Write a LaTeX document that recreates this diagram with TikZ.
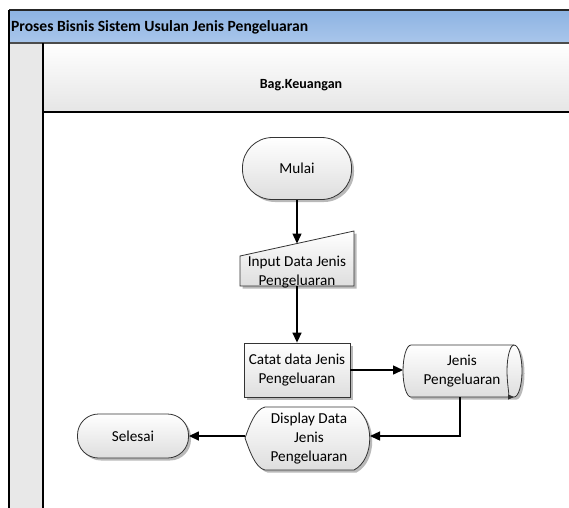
\documentclass[tikz,border=0pt]{standalone}
\usepackage{fontspec}
\setmainfont{Carlito}
\usetikzlibrary{arrows.meta,shadows}
\definecolor{judulA}{HTML}{8DB3E2}
\definecolor{judulB}{HTML}{A9C6EB}

\begin{document}
\begin{tikzpicture}[x=1pt,y=-1pt,
    bentuk/.style={top color=white,bottom color=black!13,draw=black!80,line width=0.8pt,
      drop shadow={shadow xshift=2.5pt,shadow yshift=-2.5pt,fill=black!50,opacity=0.55}},
    teks/.style={align=center,inner sep=0pt,font=\fontsize{15.2}{19}\selectfont},
    terminal/.style={bentuk,teks,rounded corners=30pt,minimum width=109pt,minimum height=62pt},
    alur/.style={line width=1.4pt,-{Triangle[length=10pt,width=9pt]}}]
    \useasboundingbox (0,0) rectangle (569,507);
    \clip (0,0) rectangle (569,507);
    % lajur
    \shade[top color=judulA,bottom color=judulB] (9,10) rectangle (590,43);
    \shade[top color=white,bottom color=black!10] (43,43) rectangle (590,112);
    \fill[black!9] (9,43) rectangle (43,520);
    \draw[line width=1.5pt,black!85] (9,10) -- (590,10);
    \draw[line width=2.5pt,black!70] (9,43) -- (590,43);
    \draw[line width=1.2pt] (9,10) -- (9,520);
    \draw[line width=1.2pt] (43,43) -- (43,520);
    \draw[line width=1.2pt] (43,112) -- (590,112);
    \node[anchor=west,inner sep=0pt,font=\fontsize{15.6}{18}\bfseries\selectfont] (judul) at (11,27) {Proses Bisnis Sistem Usulan Jenis Pengeluaran};
    \node[font=\fontsize{14}{17}\bfseries\selectfont] (lajur) at (301,85) {Bag.Keuangan};
    % simbol
    \node[terminal] (mulai) at (297,168.5) {Mulai};
    \draw[bentuk] (240,256) -- (354,231) -- (354,286) -- (240,286) -- cycle;
    \node[teks] (input) at (297,272) {Input Data Jenis\\Pengeluaran};
    \coordinate (input top) at (297,243.5);
    \coordinate (input bot) at (297,286);
    \node[bentuk,teks,minimum width=106pt,minimum height=54pt] (catat) at (297,370) {Catat data Jenis\\Pengeluaran};
    \draw[bentuk] (411,345) -- (514,345) arc[start angle=-90,end angle=90,x radius=8,y radius=26]
        -- (411,397) arc[start angle=90,end angle=270,x radius=8,y radius=26] -- cycle;
    \draw[line width=0.8pt,draw=black!80,-{Triangle[length=6pt,width=5pt]}] (514,345) arc[start angle=270,end angle=90,x radius=7,y radius=26];
    \node[teks] (simpan) at (462,371) {Jenis\\Pengeluaran};
    \coordinate (simpan w) at (403,370);
    \coordinate (simpan s) at (460,397);
    \draw[bentuk] (265,407) -- (354,407) .. controls (375,418) and (375,459) .. (354,470) -- (265,470)
        .. controls (255,468) and (249,449) .. (245,438) .. controls (249,427) and (255,409) .. (265,407) -- cycle;
    \node[teks] (tampil) at (309,439) {Display Data\\Jenis\\Pengeluaran};
    \coordinate (tampil e) at (370,436);
    \coordinate (tampil w) at (245,436);
    \node[terminal,rounded corners=21pt,minimum width=111pt,minimum height=44pt] (selesai) at (133,436) {Selesai};
    % alur
    \draw[alur] (mulai) -- (input top);
    \draw[alur] (input bot) -- (catat);
    \draw[alur] (catat) -- (simpan w);
    \draw[alur] (simpan s) |- (tampil e);
    \draw[alur] (tampil w) -- (selesai);
\end{tikzpicture}
\end{document}
